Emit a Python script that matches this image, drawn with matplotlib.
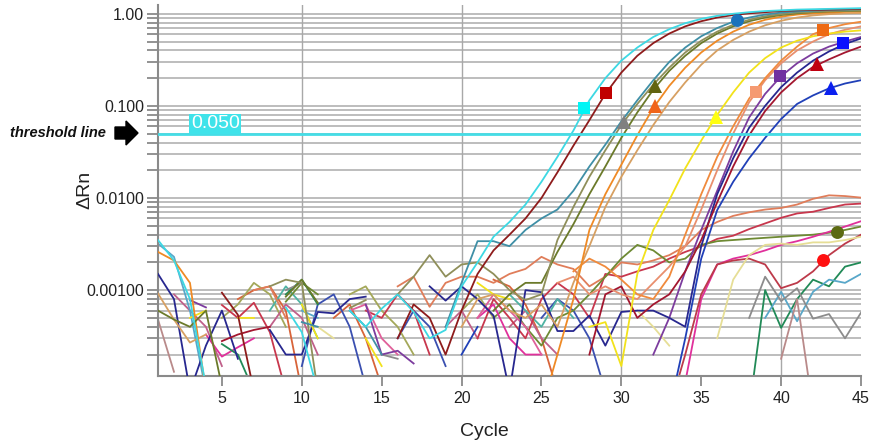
import numpy as np
import matplotlib
matplotlib.use("Agg")
import matplotlib.pyplot as plt
from matplotlib.patches import Polygon
from matplotlib.ticker import FixedLocator, NullFormatter

plt.rcParams['font.family'] = ['Liberation Sans', 'DejaVu Sans']

_ = np.nan
cycles = list(range(1, 46))

# ---- amplification curves (ΔRn per cycle) ----
cyan_rn = [0.0035, 0.0021, 0.0008, 0.00009, _, _, _, _, 0.00065, 0.00035, 0.00008, _, 0.0006, 0.0004, 0.00063,
           0.0009, 0.00058, 0.0003, 0.00037, 0.0011, 0.002, 0.0038, 0.0055, 0.0085, 0.015, 0.028, 0.054, 0.115, 0.2, 0.31,
           0.43, 0.56, 0.68, 0.79, 0.88, 0.95, 1.0, 1.04, 1.07, 1.09, 1.11, 1.12, 1.13, 1.14, 1.15]
darkred_rn = [_, _, _, _, 0.00094, 0.00054, 0.00008, _, _, _, _, _, _, _, _,
              0.0003, 0.0007, 0.0005, 0.0002, 0.0006, 0.0015, 0.0027, 0.004, 0.006, 0.01, 0.019, 0.037, 0.07, 0.135, 0.23,
              0.35, 0.48, 0.61, 0.73, 0.83, 0.91, 0.97, 1.01, 1.04, 1.07, 1.09, 1.1, 1.11, 1.12, 1.13]
teal_rn = [_, _, _, _, _, _, _, _, _, 0.00045, 0.0004, _, 0.0006, 0.0004, 0.0002,
           _, _, _, 0.0004, 0.0012, 0.0034, 0.0034, 0.003, 0.0045, 0.006, 0.0075, 0.012, 0.022, 0.038, 0.068,
           0.115, 0.19, 0.3, 0.43, 0.57, 0.7, 0.82, 0.91, 0.98, 1.03, 1.06, 1.08, 1.1, 1.11, 1.12]
khaki_rn = [_, _, _, _, _, _, _, 0.0011, 0.0013, 0.0012, 0.00008, _, 0.00064, 0.00078, _,
            0.0009, 0.0014, 0.0024, 0.0014, 0.0019, 0.002, 0.0015, 0.001, 0.00078, 0.0009, 0.0035, 0.008, 0.017, 0.033, 0.062,
            0.105, 0.17, 0.26, 0.38, 0.51, 0.64, 0.76, 0.86, 0.94, 0.99, 1.03, 1.05, 1.07, 1.08, 1.09]
olive_rn = [0.0006, 0.00048, 0.0004, 0.0006, 0.00009, _, _, _, 0.00085, 0.0013, 0.00073, _, _, _, _,
            _, _, _, _, _, _, 0.0006, 0.0009, 0.0012, 0.0012, 0.0026, 0.0052, 0.011, 0.022, 0.045,
            0.085, 0.15, 0.24, 0.35, 0.48, 0.61, 0.73, 0.83, 0.91, 0.97, 1.01, 1.04, 1.06, 1.07, 1.08]
orange_rn = [0.0026, 0.0021, 0.0012, 0.00008, _, _, _, _, _, _, _, _, _, _, _,
             _, _, _, _, _, _, _, _, _, 0.00005, 0.0002, 0.0008, 0.0045, 0.011, 0.023,
             0.048, 0.095, 0.165, 0.26, 0.38, 0.51, 0.64, 0.76, 0.86, 0.93, 0.98, 1.01, 1.03, 1.05, 1.06]
tan_rn = [0.00092, 0.00048, 0.00027, 0.00033, _, _, _, _, _, _, _, _, _, _, _,
          _, _, _, _, 0.0004, 0.0008, 0.0009, 0.0006, 0.0005, 0.0007, 0.0004, 0.0012, 0.003, 0.008, 0.017,
          0.033, 0.062, 0.11, 0.18, 0.28, 0.4, 0.52, 0.64, 0.75, 0.84, 0.91, 0.96, 0.99, 1.01, 1.02]
yellow_rn = [_, _, 0.0005, 0.0006, _, 0.0005, 0.0005, _, _, 0.0007, 0.0003, _, _, 0.0003, 0.00015,
             _, _, _, _, _, 0.0012, 0.0009, 0.0008, _, _, _, _, 0.0004, 0.00045, 0.00015,
             0.0015, 0.0045, 0.0095, 0.021, 0.042, 0.08, 0.14, 0.23, 0.33, 0.43, 0.51, 0.57, 0.61, 0.64, 0.66]
orange2_rn = [_, _, _, _, _, _, _, _, _, _, _, _, _, _, _,
              _, _, _, _, _, _, _, _, _, _, _, 0.0016, 0.0022, 0.0018, 0.0013,
              0.0009, 0.0008, 0.0014, 0.004, 0.011, 0.028, 0.06, 0.12, 0.2, 0.31, 0.44, 0.6, 0.7, 0.77, 0.82]
salmon_rn = [_, _, _, _, _, _, _, _, _, _, _, _, _, _, _,
             _, _, _, _, _, _, _, _, _, _, 0.0012, 0.0014, 0.0009, 0.0011, 0.0009,
             0.0008, 0.0012, 0.0018, 0.003, 0.0075, 0.02, 0.05, 0.11, 0.19, 0.29, 0.4, 0.5, 0.6, 0.67, 0.73]
purple_rn = [_, _, 0.00078, 0.00065, _, _, _, _, _, _, _, _, _, 0.0007, 0.0002,
             0.00022, 0.00016, _, _, _, _, _, _, _, _, _, _, _, _, _,
             _, 0.0002, 0.0005, 0.0016, 0.0045, 0.012, 0.032, 0.075, 0.135, 0.21, 0.29, 0.37, 0.44, 0.5, 0.56]
navy_rn = [0.0015, 0.0008, 0.00008, 0.00025, 0.0006, 0.00018, _, 0.00037, 0.0002, 0.0002, 0.00058, 0.00056, 0.0008, 0.00085, _,
           _, _, 0.0011, 0.00077, 0.0011, 0.0008, 0.00053, 0.00008, 0.001, 0.00095, 0.00036, 0.00036, 0.00053, 0.00025, 0.00058,
           0.0006, 0.0006, 0.0005, 0.0004, 0.003, 0.011, 0.027, 0.058, 0.1, 0.16, 0.23, 0.31, 0.39, 0.47, 0.54]
darkred2_rn = [_, _, _, _, 0.00028, 0.00033, 0.00037, 0.0004, _, _, _, _, _, _, _,
               _, _, _, _, _, _, _, _, _, _, _, _, 0.0002, 0.0009, 0.0011,
               0.0005, 0.0007, 0.0009, 0.0016, 0.0035, 0.009, 0.022, 0.048, 0.088, 0.14, 0.2, 0.265, 0.32, 0.38, 0.44]
blue_rn = [_, _, _, _, _, _, _, _, _, _, _, _, _, _, _,
           _, _, _, _, 0.0002, 0.0004, _, _, _, _, _, _, _, _, _,
           _, _, 0.00005, 0.0003, 0.0022, 0.0074, 0.015, 0.027, 0.045, 0.072, 0.105, 0.13, 0.155, 0.175, 0.19]

# ---- low / noisy wells ----
salmon_low = [_, _, _, _, _, _, 0.001, 0.0011, 0.0005, _, _, _, _, _, _,
              0.0011, 0.0014, 0.00066, 0.0012, 0.0014, 0.0014, 0.0012, 0.0015, 0.0017, 0.0023, 0.0019, 0.0017, 0.0011, 0.0014, 0.002,
              0.0019, 0.0021, 0.0024, 0.003, 0.0045, 0.0055, 0.0064, 0.007, 0.0075, 0.0078, 0.0085, 0.0098, 0.0107, 0.0105, 0.0101]
red_low = [_, _, _, _, 0.00069, 0.0005, 0.00073, 0.00035, 0.00008, _, _, _, _, 0.0006, 0.0005,
           0.0009, 0.0006, 0.0002, _, _, 0.0003, 0.0008, 0.0005, 0.0003, 0.0008, 0.0012, 0.0009, 0.0005, 0.0015, 0.0014,
           0.0016, 0.0018, 0.0022, 0.0026, 0.003, 0.0036, 0.0039, 0.0046, 0.0053, 0.0061, 0.0068, 0.0071, 0.0078, 0.0085, 0.0087]
olive_low = [_, _, _, _, _, _, _, _, 0.00075, 0.0012, 0.0009, _, _, _, _,
             _, _, _, _, _, _, 0.0005, 0.0007, 0.0004, 0.00025, 0.0005, 0.0006, 0.0009, 0.0014, 0.0022,
             0.0031, 0.0027, 0.002, 0.0022, 0.0031, 0.0034, 0.0035, 0.0036, 0.0037, 0.0038, 0.0039, 0.004, 0.0042, 0.0045, 0.0049]
magenta_low = [_, _, _, 0.00033, 0.00019, 0.00024, 0.0003, _, _, _, _, _, _, _, _,
               _, _, _, _, _, 0.0005, 0.0007, 0.0003, 0.0002, 0.0002, _, _, _, _, _,
               _, _, _, 0.0001, 0.0008, 0.0019, 0.0022, 0.0024, 0.0027, 0.0031, 0.0034, 0.0038, 0.0043, 0.0049, 0.0056]
crimson_low = [_, _, _, _, _, _, _, _, _, _, _, _, _, _, _,
               _, _, _, _, _, _, _, _, _, _, _, _, _, _, _,
               _, _, 0.00005, 0.0002, 0.0009, 0.0019, 0.0021, 0.0022, 0.0019, 0.00105, 0.0012, 0.0016, 0.0024, 0.0032, 0.004]
paleyellow_low = [_, _, _, _, _, _, _, _, _, _, 0.0004, 0.0003, _, _, _,
                  _, _, _, _, _, _, _, _, _, _, _, _, _, _, _,
                  0.0006, 0.0004, 0.00025, _, _, 0.0003, 0.0013, 0.0024, 0.0031, 0.0032, 0.0031, 0.0033, 0.0033, 0.0035, 0.0038]
green_low = [_, _, _, _, 0.00026, 0.0002, 0.00008, _, 0.0009, 0.0013, 0.0007, _, _, _, _,
             _, _, _, _, _, _, _, _, _, _, _, _, _, _, _,
             _, _, _, _, _, _, _, 0.00005, 0.001, 0.00039, 0.0008, 0.0013, 0.0011, 0.0018, 0.002]
lightblue_low = [0.0032, 0.0023, 0.0006, 0.00008, _, _, _, _, _, 0.0006, 0.0005, _, _, _, _,
                 _, _, _, _, _, _, _, _, _, _, _, _, _, _, _,
                 _, _, _, _, _, _, _, _, 0.0005, 0.00096, 0.00046, 0.00096, 0.0013, 0.0012, 0.0015]
grey_low = [_, _, _, _, _, _, _, _, 0.001, 0.0012, _, _, _, _, 0.0002,
            0.00018, _, _, _, _, _, _, _, _, _, _, _, _, _, _,
            _, _, _, _, _, _, _, 0.0005, 0.0014, 0.00076, 0.00105, 0.00049, 0.00055, 0.0003, 0.00057]
rose_low = [0.00048, 0.00013, _, _, _, _, _, _, _, _, _, _, _, _, _,
            _, _, _, _, _, _, _, _, _, _, _, _, _, _, _,
            _, _, _, _, _, _, _, _, _, 0.00018, 0.0008, 0.00005, _, _, _]
pink_low = [_, _, _, _, _, _, _, _, _, _, _, _, 0.0006, 0.0007, 0.0003,
            0.0002, _, _, _, _, 0.0005, 0.0009, 0.0006, 0.0004, 0.0002, _, _, _, _, _,
            _, _, _, _, _, _, _, _, _, _, _, _, _, _, _]
noise_a = [_, _, _, _, _, 0.0008, 0.001, 0.0011, 0.0006, 0.00008, _, 0.0005, 0.0007, 0.0003, 0.00009,
           _, _, _, _, _, _, 0.0013, 0.0011, 0.0007, 0.0003, 0.00008, _, _, _, _,
           _, _, _, _, _, _, _, _, _, _, _, _, _, _, _]
noise_b = [_, _, _, _, _, _, _, _, _, 0.00015, 0.0007, 0.0009, 0.0004, 0.00009, _,
           0.0003, 0.0006, 0.0004, 0.00015, _, _, _, _, _, 0.0005, 0.0008, 0.0006, 0.0003, 0.00008, _,
           _, _, _, _, _, _, _, _, _, _, _, _, _, _, _]
noise_c = [_, _, _, _, 0.0005, 0.0007, 0.0012, 0.0009, 0.0004, _, _, _, 0.0009, 0.0011, 0.0006,
           0.0004, 0.0002, _, _, 0.0006, 0.0009, 0.0005, _, _, _, _, _, _, _, _,
           _, _, _, _, _, _, _, _, _, _, _, _, _, _, _]
noise_d = [_, 0.0009, 0.0006, 0.0004, 0.00015, _, _, 0.0004, 0.0007, 0.0005, 0.0002, _, _, _, _,
           _, _, _, 0.0004, 0.0006, 0.0003, _, 0.0004, 0.0006, 0.0003, 0.0002, _, _, _, _,
           _, _, _, _, _, _, _, _, _, _, _, _, _, _, _]
noise_e = [_, _, _, _, _, _, _, 0.0006, 0.0011, 0.0007, 0.0003, _, _, _, _,
           _, _, _, _, _, _, _, 0.0009, 0.0006, 0.0004, 0.0008, 0.0005, _, _, _,
           _, _, _, _, _, _, _, _, _, _, _, _, _, _, _]

# ---- Ct markers ----
marker_cycle = [27.67, 29.05, 30.17, 32.1, 32.1, 37.24, 35.9, 38.4, 39.9, 42.25, 42.6, 43.9, 43.1, 43.5, 42.6]
marker_rn = [0.095, 0.138, 0.067, 0.165, 0.1, 0.857, 0.076, 0.142, 0.21, 0.286, 0.67, 0.48, 0.157, 0.0043, 0.0021]
marker_shape = ['s', 's', '^', '^', '^', 'o', '^', 's', 's', '^', 's', 's', '^', 'o', 'o']
marker_color = ['#00f5f5', '#c00000', '#808080', '#626410', '#f0641a', '#1a72bc', '#ffff10', '#f59a72',
                '#7030a0', '#c00010', '#ee6a14', '#0a10ff', '#0a20f0', '#5c6a12', '#ff1010']

threshold = 0.050
ytick_vals = [1.0, 0.1, 0.01, 0.001]
ytick_labels = ['1.00', '0.100', '0.0100', '0.00100']
xtick_vals = [5, 10, 15, 20, 25, 30, 35, 40, 45]

low_series = [
    (noise_a, '#d8643a'), (noise_b, '#3a4fb0'), (noise_c, '#a4a85a'), (noise_d, '#c0608a'), (noise_e, '#4fb3a3'),
    (salmon_low, '#e07d5a'), (red_low, '#c8374d'), (olive_low, '#6e8a33'), (magenta_low, '#e0309b'),
    (crimson_low, '#bd3a4a'), (paleyellow_low, '#e6de96'), (green_low, '#218a57'), (lightblue_low, '#58a7c9'),
    (grey_low, '#8c8c8c'), (rose_low, '#b98a8a'), (pink_low, '#e0609a'),
]
amp_series = [
    (purple_rn, '#7c3c9e'), (navy_rn, '#27278f'), (darkred2_rn, '#a3162f'), (blue_rn, '#2040b8'),
    (salmon_rn, '#e98f6e'), (orange2_rn, '#f08a3c'), (yellow_rn, '#f2e21b'),
    (tan_rn, '#d7a062'), (orange_rn, '#ef8a25'), (olive_rn, '#6b7a2a'), (khaki_rn, '#8f8f5a'),
    (teal_rn, '#3f8fa6'), (darkred_rn, '#8e1b1b'), (cyan_rn, '#3dd8e3'),
]

W, H = 869, 445
fig = plt.figure(figsize=(W / 100, H / 100), dpi=100)
ax = fig.add_axes([158 / W, 1 - 376 / H, (861 - 158) / W, (376 - 5) / H])
ax.set_yscale('log')
ax.set_xlim(1, 45)
ax.set_ylim(1.17e-4, 1.245)

# grid
minor_pos = [m * 10.0 ** e for e in range(-4, 1) for m in range(1, 10)]
minor_pos = [v for v in minor_pos if 1.17e-4 < v < 1.245]
for v in minor_pos:
    ax.axhline(v, color='#bdbdbd', lw=1.4, zorder=0)
for xv in [10, 20, 30, 40]:
    ax.axvline(xv, color='#a8a8a8', lw=1.0, zorder=0)

for vals, col in low_series:
    ax.plot(cycles, vals, color=col, lw=1.3, zorder=2)
for vals, col in amp_series:
    ax.plot(cycles, vals, color=col, lw=1.3, zorder=3)

ax.axhline(threshold, color='#45dde6', lw=2.0, zorder=4)

for xc, yv, mk, col in zip(marker_cycle, marker_rn, marker_shape, marker_color):
    ax.plot([xc], [yv], marker=mk, color=col, markersize=10 if mk == '^' else 9.3,
            markeredgewidth=0, linestyle='none', zorder=6)

ax.text(3.05, 0.0515, '0.050', color='white', fontsize=14, ha='left', va='bottom', zorder=7,
        bbox=dict(boxstyle='square,pad=0.08', facecolor='#3fe3ea', edgecolor='none'))

# axes styling
for s in ['top', 'right']:
    ax.spines[s].set_visible(False)
for s in ['left', 'bottom']:
    ax.spines[s].set_color('#8a8a8a')
    ax.spines[s].set_linewidth(1.5)
ax.yaxis.set_major_locator(FixedLocator(ytick_vals))
ax.set_yticklabels(ytick_labels)
ax.yaxis.set_minor_locator(FixedLocator(minor_pos))
ax.yaxis.set_minor_formatter(NullFormatter())
ax.set_xticks(xtick_vals)
ax.tick_params(axis='both', which='both', direction='out', color='#8a8a8a', width=1.3,
               labelsize=11.5, labelcolor='#222222')
ax.tick_params(axis='y', which='both', length=8, pad=2)
ax.tick_params(axis='x', which='major', length=7, pad=4)

fig.text(85 / W, 1 - 190 / H, 'ΔRn', rotation=90, ha='center', va='center', fontsize=14, color='#222222')
fig.text(484 / W, 1 - 431 / H, 'Cycle', ha='center', va='center', fontsize=14, color='#222222')
fig.text(10 / W, 1 - 133 / H, 'threshold line', ha='left', va='center', fontsize=10.5,
         fontweight='bold', fontstyle='italic', color='#111111')
arrow_px = [(115, 127), (126, 127), (126, 121), (138, 133), (126, 145), (126, 139), (115, 139)]
fig.patches.append(Polygon([(x / W, 1 - y / H) for x, y in arrow_px], closed=True,
                           transform=fig.transFigure, facecolor='black', edgecolor='black'))

fig.savefig('out.png', dpi=100)
